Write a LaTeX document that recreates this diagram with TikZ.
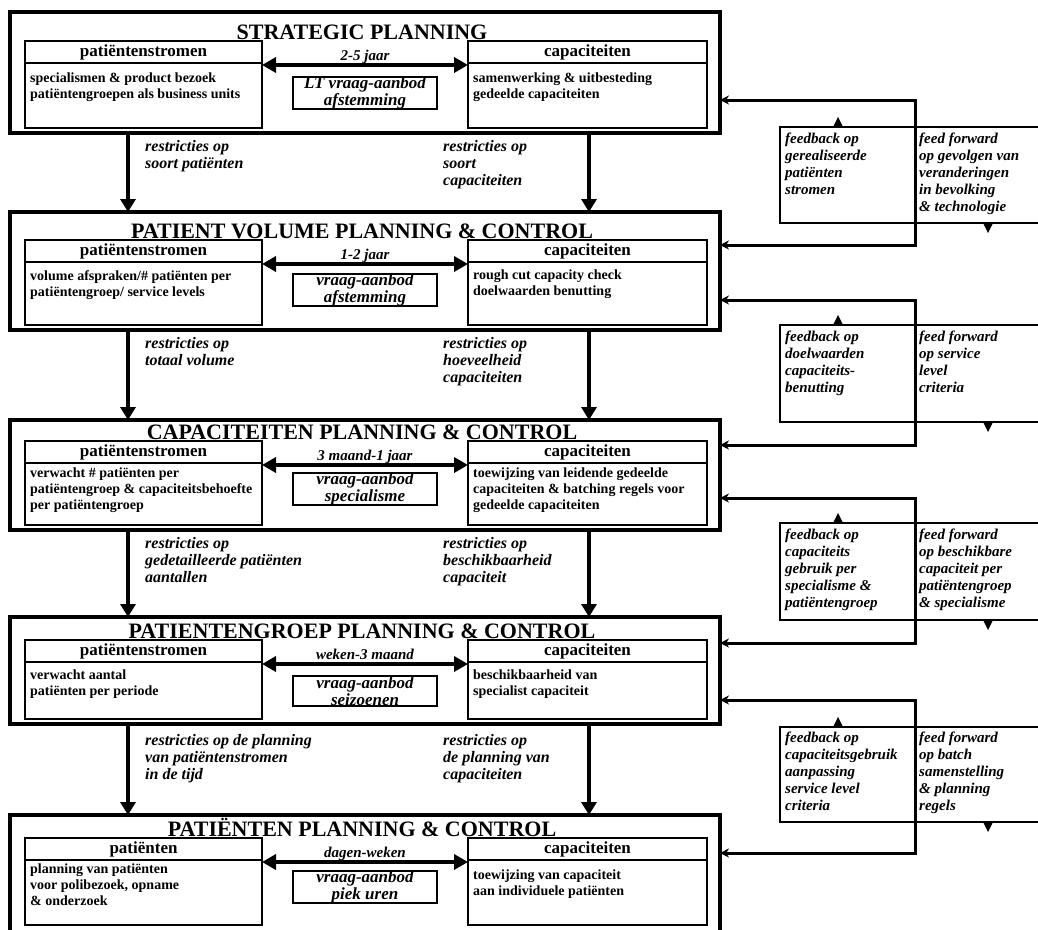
\documentclass[tikz,border=0pt]{standalone}
\usepackage{fontspec}
\setmainfont{Liberation Serif}
\usetikzlibrary{arrows.meta}
\tikzset{
  outerbox/.style={draw, line width=4.5pt, anchor=north west, inner sep=0pt, outer sep=0pt, minimum width=710pt},
  hdrbox/.style={draw, line width=2pt, anchor=north west, inner sep=0pt, outer sep=0pt, minimum height=22pt, text height=11pt, text depth=3pt, font=\bfseries\fontsize{17}{17}\selectfont},
  bodybox/.style={draw, line width=2pt, anchor=north west, inner sep=0pt, outer sep=0pt},
  midbox/.style={draw, line width=2pt, anchor=north west, inner sep=0pt, outer sep=0pt, minimum width=144pt, minimum height=30pt, align=center, font=\bfseries\itshape\fontsize{17}{14}\selectfont},
  ttl/.style={anchor=base, inner sep=0pt, font=\bfseries\fontsize{22}{22}\selectfont},
  bodytxt/.style={anchor=north west, inner sep=0pt, align=left, font=\bfseries\fontsize{14}{16}\selectfont},
  spanlbl/.style={anchor=base, inner sep=0pt, font=\bfseries\itshape\fontsize{15}{15}\selectfont},
  restr/.style={anchor=north west, inner sep=0pt, align=left, font=\bfseries\itshape\fontsize{16}{17}\selectfont},
  fbbox/.style={draw, line width=2pt, anchor=north west, inner sep=0pt, outer sep=0pt, minimum width=135pt},
  fbtxt/.style={anchor=north west, inner sep=0pt, align=left, font=\bfseries\itshape\fontsize{15}{17}\selectfont},
  downarrow/.style={line width=4pt, -{Triangle[length=13pt,width=15pt]}},
  dblarrow/.style={line width=4pt, {Triangle[length=14pt,width=15pt]}-{Triangle[length=14pt,width=15pt]}},
  looparrow/.style={line width=3pt, {Stealth[length=9pt,width=9pt]}-{Stealth[length=9pt,width=9pt]}},
  fbline/.style={line width=2pt},
}
\begin{document}
\begin{tikzpicture}[x=1pt,y=-1pt]
\useasboundingbox (0,0) rectangle (1038,929);
\coordinate (E) at (1040,0);

% ---------- Level 1
\node[outerbox, minimum height=121pt] (L1) at (10,12) {};
\node[hdrbox, minimum width=237pt] (L1ph) at (25,41) {patiëntenstromen};
\node[bodybox, minimum width=237pt, minimum height=65pt] (L1pb) at (25,63) {};
\node[hdrbox, minimum width=239pt] (L1rh) at (468,41) {capaciteiten};
\node[bodybox, minimum width=239pt, minimum height=65pt] (L1rb) at (468,63) {};
\node[ttl] (L1t) at (362,39) {STRATEGIC PLANNING};
\node[bodytxt] (L1pt) at (30,73) {specialismen \& product bezoek\\patiëntengroepen als business units};
\node[bodytxt] (L1rt) at (473,73) {samenwerking \& uitbesteding\\gedeelde capaciteiten};
\node[midbox] (L1m) at (293,77) {LT vraag-aanbod\\afstemming};
\draw[dblarrow] ([yshift=-2pt]L1ph.south east) -- ([yshift=-2pt]L1rh.south west);
\node[spanlbl] (L1s) at (365,60) {2-5 jaar};

% ---------- Level 2
\node[outerbox, minimum height=118pt] (L2) at (10,212) {};
\node[hdrbox, minimum width=237pt] (L2ph) at (25,240) {patiëntenstromen};
\node[bodybox, minimum width=237pt, minimum height=63pt] (L2pb) at (25,262) {};
\node[hdrbox, minimum width=239pt] (L2rh) at (468,240) {capaciteiten};
\node[bodybox, minimum width=239pt, minimum height=63pt] (L2rb) at (468,262) {};
\node[ttl] (L2t) at (362,238) {PATIENT VOLUME PLANNING \& CONTROL};
\node[bodytxt] (L2pt) at (30,270) {volume afspraken/\# patiënten per\\patiëntengroep/ service levels};
\node[bodytxt] (L2rt) at (473,270) {rough cut capacity check\\doelwaarden benutting};
\node[midbox] (L2m) at (293,274) {vraag-aanbod\\afstemming};
\draw[dblarrow] ([yshift=-2pt]L2ph.south east) -- ([yshift=-2pt]L2rh.south west);
\node[spanlbl] (L2s) at (365,259) {1-2 jaar};

% ---------- Level 3
\node[outerbox, minimum height=110pt] (L3) at (10,420) {};
\node[hdrbox, minimum width=237pt] (L3ph) at (25,441) {patiëntenstromen};
\node[bodybox, minimum width=237pt, minimum height=62pt] (L3pb) at (25,463) {};
\node[hdrbox, minimum width=239pt] (L3rh) at (468,441) {capaciteiten};
\node[bodybox, minimum width=239pt, minimum height=62pt] (L3rb) at (468,463) {};
\node[ttl] (L3t) at (362,439) {CAPACITEITEN PLANNING \& CONTROL};
\node[bodytxt] (L3pt) at (30,468) {verwacht \# patiënten per\\patiëntengroep \& capaciteitsbehoefte\\per patiëntengroep};
\node[bodytxt] (L3rt) at (473,468) {toewijzing van leidende gedeelde\\capaciteiten \& batching regels voor\\gedeelde capaciteiten};
\node[midbox] (L3m) at (293,473) {vraag-aanbod\\specialisme};
\draw[dblarrow] ([yshift=-2pt]L3ph.south east) -- ([yshift=-2pt]L3rh.south west);
\node[spanlbl] (L3s) at (365,460) {3 maand-1 jaar};

% ---------- Level 4
\node[outerbox, minimum height=107pt] (L4) at (10,617) {};
\node[hdrbox, minimum width=237pt] (L4ph) at (25,640) {patiëntenstromen};
\node[bodybox, minimum width=237pt, minimum height=57pt] (L4pb) at (25,662) {};
\node[hdrbox, minimum width=239pt] (L4rh) at (468,640) {capaciteiten};
\node[bodybox, minimum width=239pt, minimum height=57pt] (L4rb) at (468,662) {};
\node[ttl] (L4t) at (362,638) {PATIENTENGROEP PLANNING \& CONTROL};
\node[bodytxt] (L4pt) at (30,670) {verwacht aantal\\patiënten per periode};
\node[bodytxt] (L4rt) at (473,670) {beschikbaarheid van\\specialist capaciteit};
\node[midbox] (L4m) at (293,676) {vraag-aanbod\\seizoenen};
\draw[dblarrow] ([yshift=-2pt]L4ph.south east) -- ([yshift=-2pt]L4rh.south west);
\node[spanlbl] (L4s) at (365,659) {weken-3 maand};

% ---------- Level 5
\node[outerbox, minimum height=130pt] (L5) at (10,815) {};
\node[hdrbox, minimum width=237pt] (L5ph) at (25,838) {patiënten};
\node[bodybox, minimum width=237pt, minimum height=65pt] (L5pb) at (25,860) {};
\node[hdrbox, minimum width=239pt] (L5rh) at (468,838) {capaciteiten};
\node[bodybox, minimum width=239pt, minimum height=65pt] (L5rb) at (468,860) {};
\node[ttl] (L5t) at (362,836) {PATIËNTEN PLANNING \& CONTROL};
\node[bodytxt] (L5pt) at (30,864) {planning van patiënten\\voor polibezoek, opname\\\& onderzoek};
\node[bodytxt] (L5rt) at (473,870) {toewijzing van capaciteit\\aan individuele patiënten};
\node[midbox] (L5m) at (293,871) {vraag-aanbod\\piek uren};
\draw[dblarrow] ([yshift=-2pt]L5ph.south east) -- ([yshift=-2pt]L5rh.south west);
\node[spanlbl] (L5s) at (365,857) {dagen-weken};

% ---------- vertical arrows between levels
\draw[downarrow] ([xshift=118pt]L1.south west) -- ([xshift=118pt]L2.north west);
\draw[downarrow] ([xshift=579pt]L1.south west) -- ([xshift=579pt]L2.north west);
\draw[downarrow] ([xshift=118pt]L2.south west) -- ([xshift=118pt]L3.north west);
\draw[downarrow] ([xshift=579pt]L2.south west) -- ([xshift=579pt]L3.north west);
\draw[downarrow] ([xshift=118pt]L3.south west) -- ([xshift=118pt]L4.north west);
\draw[downarrow] ([xshift=579pt]L3.south west) -- ([xshift=579pt]L4.north west);
\draw[downarrow] ([xshift=118pt]L4.south west) -- ([xshift=118pt]L5.north west);
\draw[downarrow] ([xshift=579pt]L4.south west) -- ([xshift=579pt]L5.north west);

\node[restr] (R12l) at (145,140) {restricties op\\soort patiënten};
\node[restr] (R12r) at (443,140) {restricties op\\soort\\capaciteiten};
\node[restr] (R23l) at (145,337) {restricties op\\totaal volume};
\node[restr] (R23r) at (443,337) {restricties op\\hoeveelheid\\capaciteiten};
\node[restr] (R34l) at (145,537) {restricties op\\gedetailleerde patiënten\\aantallen};
\node[restr] (R34r) at (443,537) {restricties op\\beschikbaarheid\\capaciteit};
\node[restr] (R45l) at (145,734) {restricties op de planning\\van patiëntenstromen\\in de tijd};
\node[restr] (R45r) at (443,734) {restricties op\\de planning van\\capaciteiten};

% ---------- feedback / feed forward 1
\coordinate (C1a) at (915,100);
\coordinate (C1b) at (915,245);
\node[fbbox, minimum height=96pt] (FB1) at (780,127) {};
\draw[fbline] (FB1.north east) -- (FB1.north east -| E);
\draw[fbline] (FB1.south east) -- (FB1.south east -| E);
\draw[looparrow] (C1a -| L1.east) -- (C1a) -- (C1b) -- (C1b -| L2.east);
\fill ([xshift=58pt]FB1.north west) +(-5,0) -- +(5,0) -- +(0,-10) -- cycle;
\fill ([xshift=73pt]FB1.south east) +(-5,0) -- +(5,0) -- +(0,10) -- cycle;
\node[fbtxt] (FB1t) at (785,133) {feedback op\\gerealiseerde\\patiënten\\stromen};
\node[fbtxt] (FF1t) at (919,133) {feed forward\\op gevolgen van\\veranderingen\\in bevolking\\\& technologie};

% ---------- 2
\coordinate (C2a) at (915,300);
\coordinate (C2b) at (915,445);
\node[fbbox, minimum height=97pt] (FB2) at (780,325) {};
\draw[fbline] (FB2.north east) -- (FB2.north east -| E);
\draw[fbline] (FB2.south east) -- (FB2.south east -| E);
\draw[looparrow] (C2a -| L2.east) -- (C2a) -- (C2b) -- (C2b -| L3.east);
\fill ([xshift=58pt]FB2.north west) +(-5,0) -- +(5,0) -- +(0,-10) -- cycle;
\fill ([xshift=73pt]FB2.south east) +(-5,0) -- +(5,0) -- +(0,10) -- cycle;
\node[fbtxt] (FB2t) at (785,331) {feedback op\\doelwaarden\\capaciteits-\\benutting};
\node[fbtxt] (FF2t) at (919,331) {feed forward\\op service\\level\\criteria};

% ---------- 3
\coordinate (C3a) at (915,498);
\coordinate (C3b) at (915,643);
\node[fbbox, minimum height=97pt] (FB3) at (780,523) {};
\draw[fbline] (FB3.north east) -- (FB3.north east -| E);
\draw[fbline] (FB3.south east) -- (FB3.south east -| E);
\draw[looparrow] (C3a -| L3.east) -- (C3a) -- (C3b) -- (C3b -| L4.east);
\fill ([xshift=58pt]FB3.north west) +(-5,0) -- +(5,0) -- +(0,-10) -- cycle;
\fill ([xshift=73pt]FB3.south east) +(-5,0) -- +(5,0) -- +(0,10) -- cycle;
\node[fbtxt] (FB3t) at (785,529) {feedback op\\capaciteits\\gebruik per\\specialisme \&\\patiëntengroep};
\node[fbtxt] (FF3t) at (919,529) {feed forward\\op beschikbare\\capaciteit per\\patiëntengroep\\\& specialisme};

% ---------- 4
\coordinate (C4a) at (915,700);
\coordinate (C4b) at (915,853);
\node[fbbox, minimum height=95pt] (FB4) at (780,727) {};
\draw[fbline] (FB4.north east) -- (FB4.north east -| E);
\draw[fbline] (FB4.south east) -- (FB4.south east -| E);
\draw[looparrow] (C4a -| L4.east) -- (C4a) -- (C4b) -- (C4b -| L5.east);
\fill ([xshift=58pt]FB4.north west) +(-5,0) -- +(5,0) -- +(0,-10) -- cycle;
\fill ([xshift=73pt]FB4.south east) +(-5,0) -- +(5,0) -- +(0,10) -- cycle;
\node[fbtxt] (FB4t) at (785,732) {feedback op\\capaciteitsgebruik\\aanpassing\\service level\\criteria};
\node[fbtxt] (FF4t) at (919,732) {feed forward\\op batch\\samenstelling\\\& planning\\regels};
\end{tikzpicture}
\end{document}
